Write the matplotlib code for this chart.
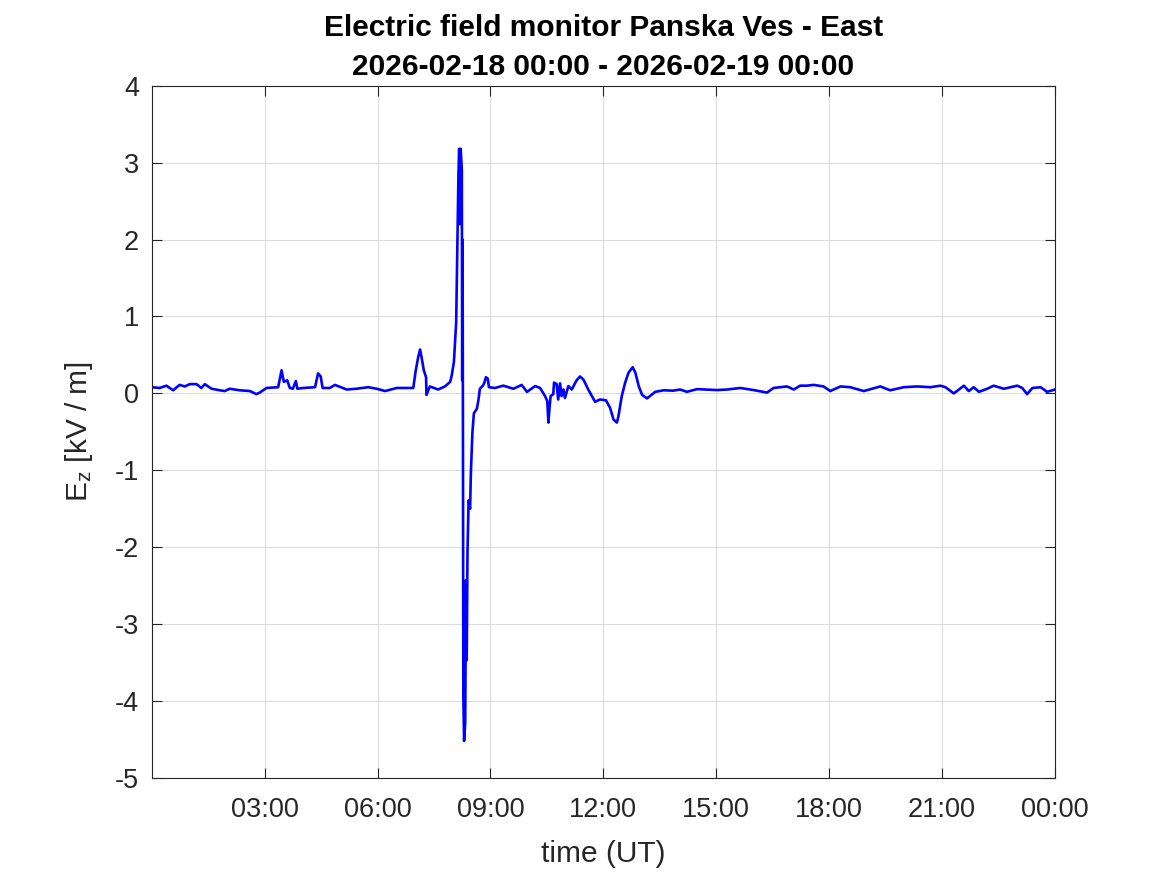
import matplotlib
matplotlib.use("Agg")
import matplotlib.pyplot as plt
import matplotlib.dates as mdates
import pandas as pd

# hours after 2026-02-18 00:00 UT
hours = [0.00, 0.21, 0.39, 0.57, 0.74, 0.88, 1.01, 1.19, 1.32, 1.41, 1.59, 1.81,
         1.94, 2.07, 2.34, 2.61, 2.78, 2.87, 3.05, 3.36, 3.45, 3.51, 3.60, 3.67,
         3.75, 3.83, 3.87, 4.03, 4.34, 4.42, 4.49, 4.54, 4.73, 4.87, 5.18, 5.44,
         5.75, 5.98, 6.20, 6.51, 6.77, 6.95, 7.01, 7.08, 7.13, 7.17, 7.23, 7.29,
         7.30, 7.39, 7.61, 7.79, 7.93, 7.97, 8.03, 8.09, 8.12, 8.15, 8.17, 8.19,
         8.21, 8.24, 8.25, 8.26, 8.27, 8.28, 8.30, 8.33, 8.35, 8.37, 8.39, 8.42,
         8.46, 8.48, 8.52, 8.56, 8.64, 8.68, 8.72, 8.80, 8.84, 8.88, 8.93, 8.96,
         9.12, 9.34, 9.61, 9.83, 9.97, 10.19, 10.32, 10.45, 10.51, 10.54, 10.57,
         10.60, 10.67, 10.69, 10.76, 10.80, 10.85, 10.89, 10.94, 10.98, 11.07,
         11.16, 11.29, 11.38, 11.47, 11.60, 11.78, 11.91, 12.07, 12.18, 12.27,
         12.36, 12.40, 12.49, 12.58, 12.67, 12.78, 12.85, 12.94, 13.03, 13.16,
         13.38, 13.60, 13.86, 14.04, 14.22, 14.49, 15.02, 15.29, 15.64, 15.99,
         16.35, 16.52, 16.88, 17.06, 17.23, 17.41, 17.59, 17.85, 18.03, 18.30,
         18.56, 18.92, 19.36, 19.62, 19.98, 20.34, 20.69, 20.96, 21.09, 21.31,
         21.45, 21.58, 21.71, 21.84, 21.98, 22.20, 22.37, 22.64, 23.00, 23.13,
         23.26, 23.40, 23.62, 23.79, 24.00]

# vertical field Ez in kV/m
ez = [0.08, 0.07, 0.10, 0.04, 0.11, 0.09, 0.12, 0.12, 0.07, 0.12, 0.06, 0.04,
      0.03, 0.06, 0.04, 0.03, -0.01, 0.01, 0.07, 0.08, 0.30, 0.15, 0.17, 0.07,
      0.06, 0.16, 0.06, 0.07, 0.08, 0.26, 0.22, 0.07, 0.07, 0.11, 0.05, 0.06,
      0.08, 0.06, 0.03, 0.07, 0.07, 0.07, 0.28, 0.47, 0.57, 0.47, 0.30, 0.21,
      -0.02, 0.09, 0.05, 0.09, 0.15, 0.23, 0.41, 0.93, 1.85, 2.84, 3.18, 2.20,
      3.18, 2.90, 0.17, 2.00, -0.58, -3.94, -4.52, -4.28, -2.43, -3.47, -2.08, -1.39,
      -1.50, -1.04, -0.52, -0.26, -0.20, -0.09, 0.06, 0.10, 0.14, 0.21, 0.19, 0.08,
      0.07, 0.10, 0.06, 0.11, 0.02, 0.095, 0.07, -0.035, -0.10, -0.38, -0.19,
      -0.035, -0.01, 0.14, 0.12, -0.08, 0.13, -0.035, 0.05, -0.06, 0.095,
      0.05, 0.17, 0.22, 0.18, 0.05, -0.11, -0.08, -0.09, -0.19, -0.34,
      -0.38, -0.30, -0.035, 0.14, 0.27, 0.34, 0.27, 0.095, -0.02, -0.065,
      0.02, 0.04, 0.035, 0.05, 0.02, 0.055, 0.043, 0.05, 0.07, 0.043,
      0.01, 0.07, 0.09, 0.05, 0.10, 0.10, 0.11, 0.09, 0.03, 0.09,
      0.08, 0.03, 0.09, 0.04, 0.08, 0.09, 0.08, 0.10, 0.08, 0.00,
      0.05, 0.10, 0.03, 0.08, 0.02, 0.06, 0.10, 0.06, 0.10, 0.07,
      -0.01, 0.07, 0.08, 0.02, 0.05]

start = pd.Timestamp("2026-02-18 00:00")
times = start + pd.to_timedelta(hours, unit="h")

plt.rcParams["font.family"] = ["Liberation Sans", "DejaVu Sans"]
plt.rcParams["mathtext.default"] = "regular"
plt.rcParams["axes.unicode_minus"] = False

fig = plt.figure(figsize=(11.67, 8.75), dpi=100)
ax = fig.add_axes([0.130, 0.111, 0.774, 0.791])

ax.plot(times, ez, color="#0000ff", lw=1.9)

ax.set_xlim(start, start + pd.Timedelta(hours=24))
ax.set_ylim(-5, 4)
ax.set_yticks(range(-5, 5))
ax.xaxis.set_major_locator(mdates.HourLocator(byhour=range(3, 24, 3)))
ax.set_xticks(list(ax.get_xticks()) + [mdates.date2num(start + pd.Timedelta(hours=24))])
ax.xaxis.set_major_formatter(mdates.DateFormatter("%H:%M"))

ax.grid(True, color="#dcdcdc", lw=0.8)
ax.set_axisbelow(True)
ax.tick_params(direction="in", top=True, right=True, length=7, width=0.8,
               labelsize=19.5, colors="#262626")
ax.tick_params(axis="x", pad=14)
ax.tick_params(axis="y", pad=9)
for s in ax.spines.values():
    s.set_color("#262626")
    s.set_linewidth(0.8)

ax.set_xlabel("time (UT)", fontsize=21.5, color="#262626", labelpad=12)
ax.set_ylabel("E$_{z}$ [kV / m]", fontsize=21.5, color="#262626", labelpad=14)
ax.set_title("Electric field monitor Panska Ves - East\n2026-02-18 00:00 - 2026-02-19 00:00",
             fontsize=21.5, fontweight="bold", pad=8, linespacing=1.5)

fig.savefig("out.png", dpi=100)
